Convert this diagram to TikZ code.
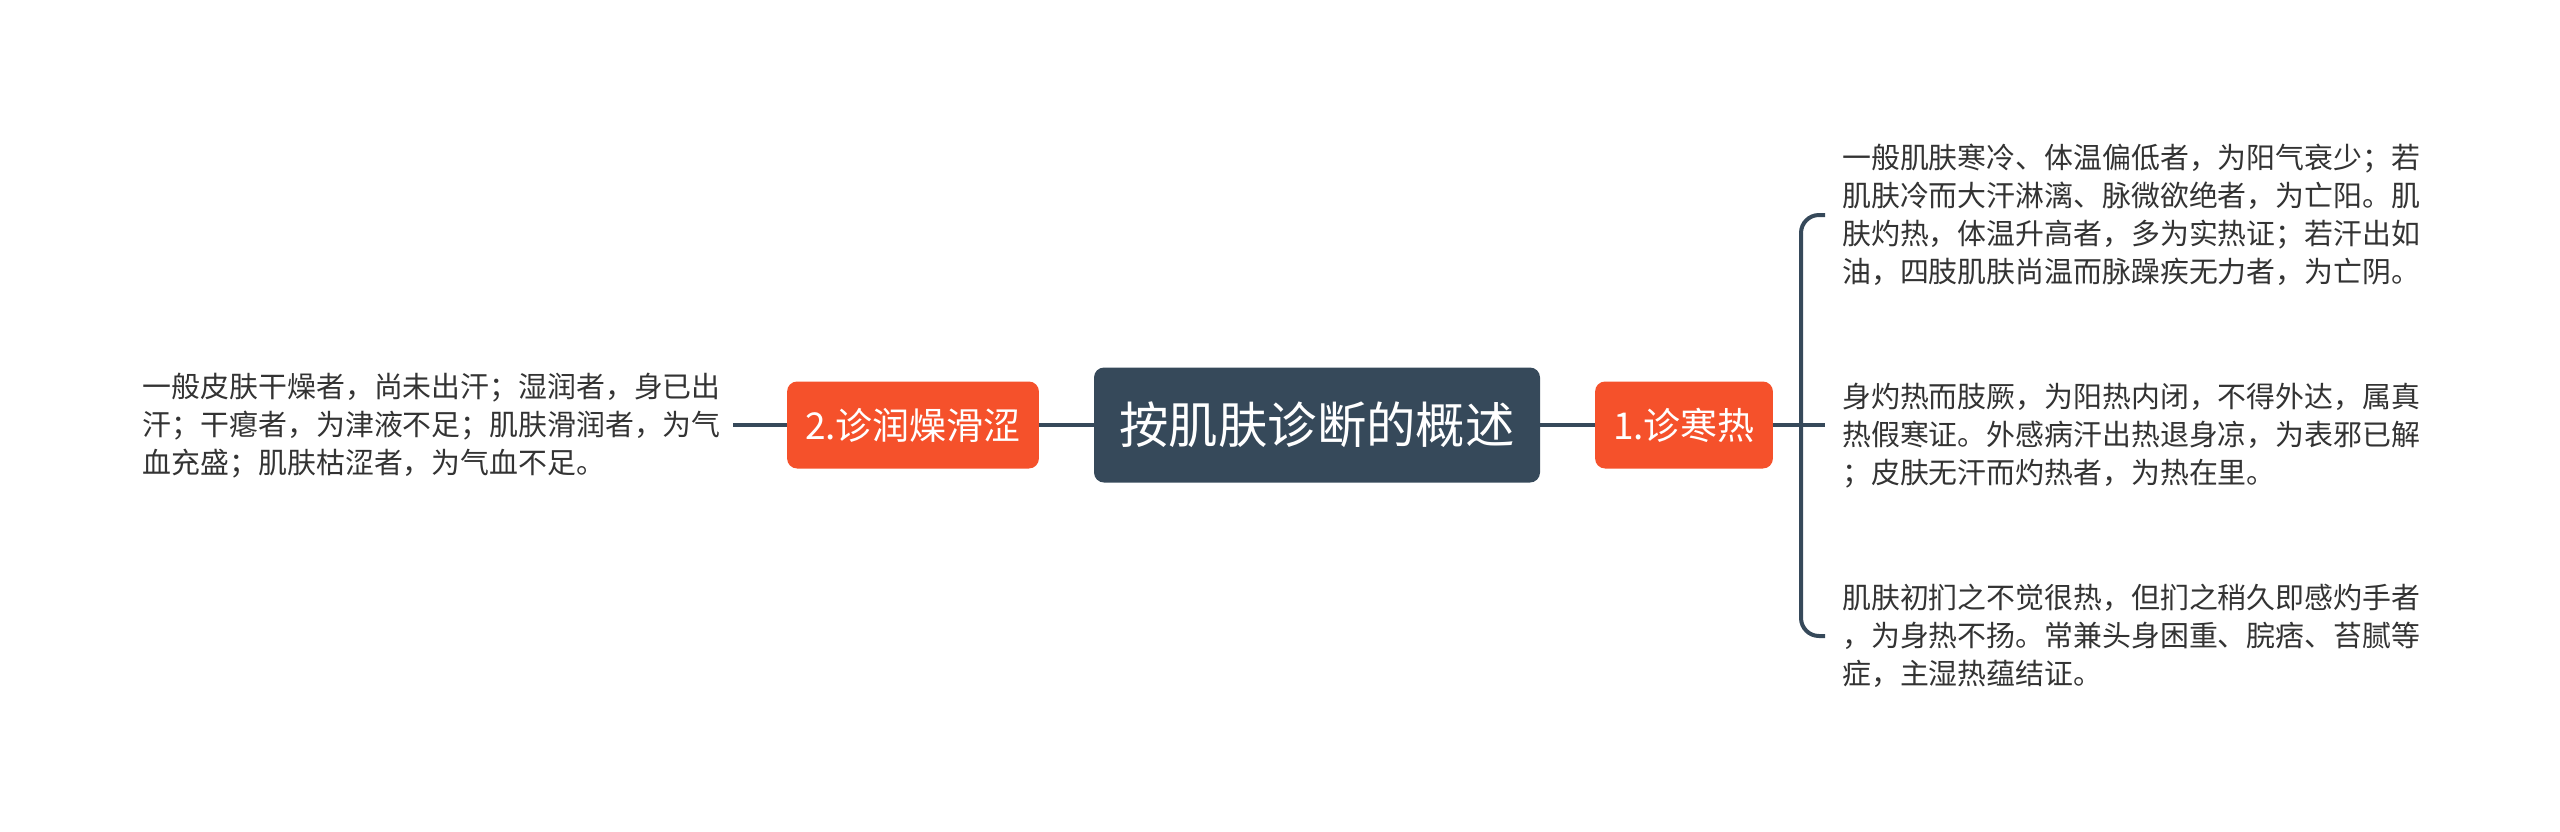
\documentclass[tikz,border=0pt]{standalone}
\usepackage{fontspec}
\setmainfont{Noto Sans CJK SC}
\definecolor{slate}{HTML}{36495A}
\definecolor{hot}{HTML}{F5512B}
\definecolor{ink}{HTML}{333333}
\begin{document}
\begin{tikzpicture}[x=1pt,y=-1pt,
  link/.style={line width=4pt,draw=slate,rounded corners=18pt},
  rootbox/.style={fill=slate,text=white,rounded corners=10pt,minimum width=446pt,minimum height=115pt,font=\fontsize{49.4}{58}\selectfont},
  topic/.style={fill=hot,text=white,rounded corners=10pt,minimum height=87pt,inner xsep=18pt,font=\fontsize{37}{44}\selectfont},
  note/.style={text=ink,align=left,inner sep=0pt,font=\fontsize{28.9}{38}\selectfont}]

\useasboundingbox (0,0) rectangle (2560,831);

\node[rootbox](root) at (1317,425){按肌肤诊断的概述};
\node[topic](hanre) at (1684,425){1.诊寒热};
\node[topic](runzao) at (913,425){2.诊润燥滑涩};

\node[note,anchor=west](t1) at (1842,215){一般肌肤寒冷、体温偏低者，为阳气衰少；若\\肌肤冷而大汗淋漓、脉微欲绝者，为亡阳。肌\\肤灼热，体温升高者，多为实热证；若汗出如\\油，四肢肌肤尚温而脉躁疾无力者，为亡阴。};
\node[note,anchor=west](t2) at (1842,436){身灼热而肢厥，为阳热内闭，不得外达，属真\\热假寒证。外感病汗出热退身凉，为表邪已解\\；皮肤无汗而灼热者，为热在里。};
\node[note,anchor=west](t3) at (1842,636){肌肤初扪之不觉很热，但扪之稍久即感灼手者\\，为身热不扬。常兼头身困重、脘痞、苔腻等\\症，主湿热蕴结证。};
\node[note,anchor=east](tl) at (721,426){一般皮肤干燥者，尚未出汗；湿润者，身已出\\汗；干瘪者，为津液不足；肌肤滑润者，为气\\血充盛；肌肤枯涩者，为气血不足。};

\coordinate (fork) at (1801,425);

\draw[link](root.east)--(hanre.west);
\draw[link](root.west)--(runzao.east);
\draw[link](runzao.west)--(733,425)coordinate(tlend);
\draw[link](hanre.east)--(fork)--(1825,425);
\draw[link](1825,215)--(fork|-t1.west)--(fork|-t3.west)--(1825,636);

\end{tikzpicture}
\end{document}
